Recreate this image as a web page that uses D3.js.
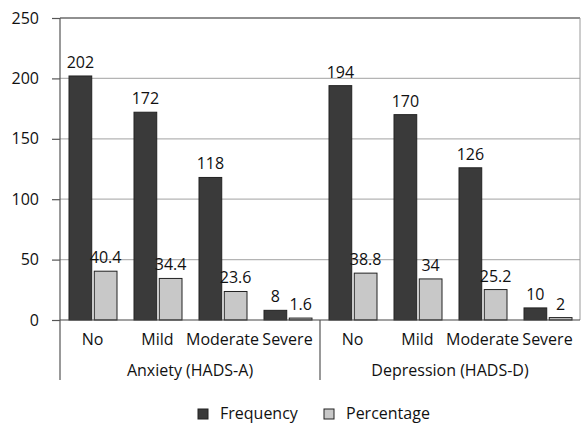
<!DOCTYPE html>
<html>
<head>
<meta charset="utf-8">
<script src="https://cdn.jsdelivr.net/npm/d3@7"></script>
<style>
  html, body { margin: 0; padding: 0; background: #fff; }
  svg text { font-family: "Open Sans", "Noto Sans", sans-serif; fill: #111; }
</style>
</head>
<body>
<svg id="chart" width="582" height="424"></svg>
<script>
// HADS screening results: counts and percentages per severity level
const groups = ["Anxiety (HADS-A)", "Depression (HADS-D)"];
const levels = ["No", "Mild", "Moderate", "Severe"];
const series = ["Frequency", "Percentage"];
const frequency = [202, 172, 118, 8, 194, 170, 126, 10];
const percentage = [40.4, 34.4, 23.6, 1.6, 38.8, 34, 25.2, 2];
const yTicks = [0, 50, 100, 150, 200, 250];
const colors = ["#3a3a3a", "#c8c8c8"];
const FS = 16;

const svg = d3.select("#chart");
const margin = { left: 60, right: 2, top: 18, bottom: 104 };
const W = 582, H = 424;
const plotW = W - margin.left - margin.right;
const plotH = H - margin.top - margin.bottom;

const cats = d3.range(frequency.length);
const x = d3.scaleBand().domain(cats).range([margin.left, margin.left + plotW]).paddingInner(0).paddingOuter(0);
const inner = d3.scaleBand().domain(series).range([9, x.bandwidth() - 8]).paddingInner(0.1);
const y = d3.scaleLinear().domain([0, 250]).range([margin.top + plotH, margin.top]);

// gridlines
svg.append("g").selectAll("line").data(yTicks.filter(t => t > 0 && t < 250)).join("line")
  .attr("x1", margin.left).attr("x2", margin.left + plotW)
  .attr("y1", d => y(d)).attr("y2", d => y(d))
  .attr("stroke", "#b4b4b4").attr("stroke-width", 1.2);

// plot frame: top and right edges
svg.append("line").attr("x1", margin.left).attr("x2", margin.left + plotW)
  .attr("y1", y(250)).attr("y2", y(250)).attr("stroke", "#222").attr("stroke-width", 1.2);
svg.append("line").attr("x1", margin.left + plotW).attr("x2", margin.left + plotW)
  .attr("y1", y(250)).attr("y2", y(0)).attr("stroke", "#9a9a9a").attr("stroke-width", 1);

// y axis
const yAxis = d3.axisLeft(y).tickValues(yTicks).tickSize(8).tickPadding(13);
const ya = svg.append("g").attr("transform", `translate(${margin.left},0)`).call(yAxis);
ya.select(".domain").remove();
ya.selectAll("line").attr("stroke", "#555").attr("stroke-width", 1.2);
ya.selectAll("text").attr("font-size", FS).attr("font-family", "'Open Sans', sans-serif").attr("fill", "#111");

// bars
const data = cats.map(i => ({ i, vals: [frequency[i], percentage[i]] }));
const gBars = svg.append("g");
data.forEach(d => {
  series.forEach((s, k) => {
    const v = d.vals[k];
    const bx = x(d.i) + inner(s);
    gBars.append("rect")
      .attr("x", bx).attr("width", inner.bandwidth())
      .attr("y", y(v)).attr("height", y(0) - y(v))
      .attr("fill", colors[k]).attr("stroke", "#222").attr("stroke-width", 1);
    gBars.append("text")
      .attr("x", bx + inner.bandwidth() / 2).attr("y", y(v) - 8)
      .attr("text-anchor", "middle").attr("font-size", FS)
      .text(v);
  });
});

// baseline and left axis line (extends through category labels)
svg.append("line").attr("x1", margin.left).attr("x2", margin.left + plotW)
  .attr("y1", y(0)).attr("y2", y(0)).attr("stroke", "#444").attr("stroke-width", 1.2);
svg.append("line").attr("x1", margin.left).attr("x2", margin.left)
  .attr("y1", y(250)).attr("y2", 380).attr("stroke", "#555").attr("stroke-width", 1.2);

// group separator
svg.append("line").attr("x1", x(4)).attr("x2", x(4))
  .attr("y1", y(0)).attr("y2", 380).attr("stroke", "#555").attr("stroke-width", 1.2);

// category labels
svg.append("g").selectAll("text").data(cats).join("text")
  .attr("x", i => x(i) + x.bandwidth() / 2).attr("y", 345)
  .attr("text-anchor", "middle").attr("font-size", FS)
  .text(i => levels[i % levels.length]);

// group labels
svg.append("g").selectAll("text").data(groups).join("text")
  .attr("x", (g, j) => (x(j * 4) + x(j * 4 + 3) + x.bandwidth()) / 2).attr("y", 376)
  .attr("text-anchor", "middle").attr("font-size", FS)
  .text(g => g);

// legend
const legendItems = [{ name: series[0], x: 198 }, { name: series[1], x: 324 }];
const lg = svg.append("g");
legendItems.forEach((it, k) => {
  lg.append("rect").attr("x", it.x).attr("y", 409).attr("width", 10).attr("height", 10)
    .attr("fill", colors[k]).attr("stroke", "#222").attr("stroke-width", 1);
  lg.append("text").attr("x", it.x + 22).attr("y", 419).attr("font-size", FS).text(it.name);
});
</script>
</body>
</html>
